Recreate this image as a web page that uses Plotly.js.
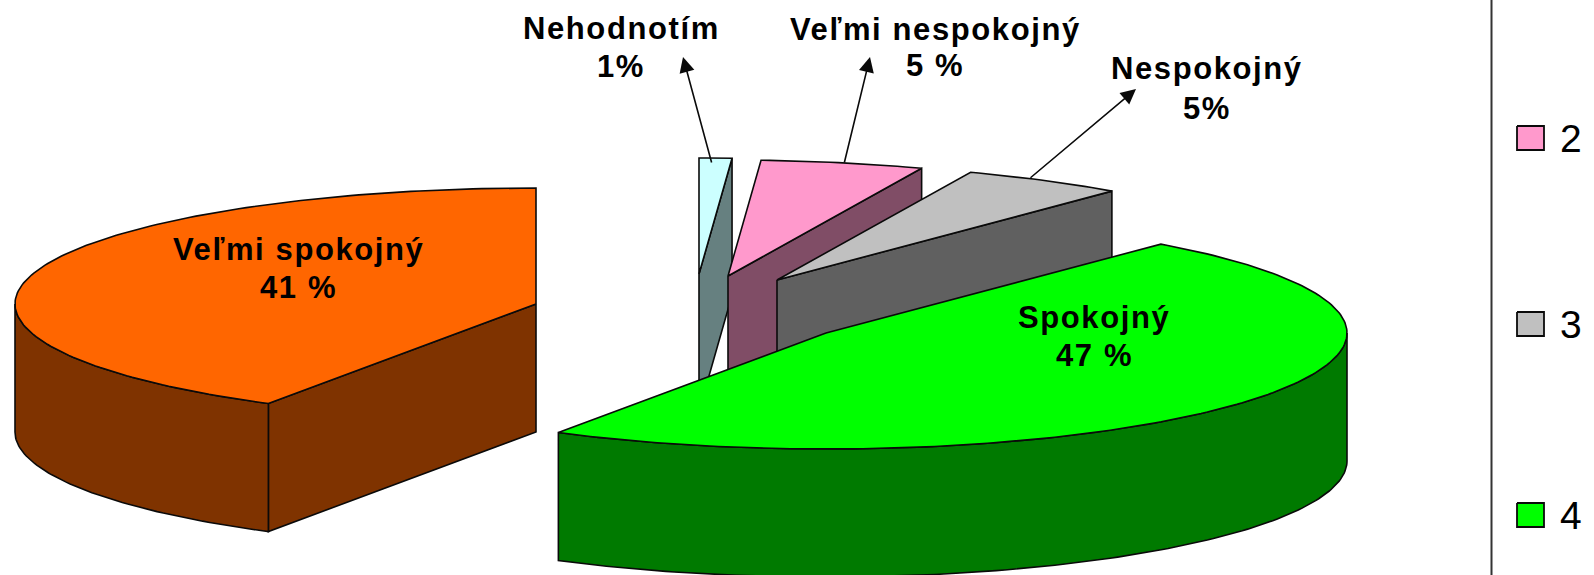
<!DOCTYPE html>
<html>
<head>
<meta charset="utf-8">
<script src="https://cdn.plot.ly/plotly-3.0.1.min.js"></script>
<style>
html,body{margin:0;padding:0;background:#fff;overflow:hidden}
.annotation-text{letter-spacing:1.6px}
</style>
</head>
<body>
<div id="chart" style="width:1594px;height:575px"></div>
<script>
// ---- data (clockwise from 12 o'clock) ----
const categories = ['Nehodnotím', 'Veľmi nespokojný', 'Nespokojný', 'Spokojný', 'Veľmi spokojný'];
const values = [1, 5, 5, 47, 41];
const valueLabels = ['1%', '5 %', '5%', '47 %', '41 %'];
const legendLabels = ['2', '3', '4'];

// ---- styles and placement ----
const topColors = ['#CCFFFF', '#FF99CC', '#C0C0C0', '#00FF00', '#FF6600'];
const sideColors = ['#668080', '#804D66', '#606060', '#007A00', '#7F3300'];
const legendColors = ['#FF99CC', '#C0C0C0', '#00FF00'];
const apexX = [699, 728, 777, 826, 536];
const apexY = [274, 276, 280, 333, 304];
const depths = [137, 128, 128, 128, 128];
const RX = 521, RY = 116;
const labelPosX = [621, 935, 1207, 1094, 298];
const nameY = [28, 29, 68, 317, 249];
const valueY = [66, 65, 108, 355, 287];
const arrowFoot = [[712, 164], [844, 164], [1029, 179]];
const arrowTip = [[683, 57], [870, 57], [1136, 89]];
const legendY = [138, 324, 515];

const INK = '#0a0a0a';
const total = values.reduce((a, b) => a + b, 0);
const rad = d => d * Math.PI / 180;
function rim(i, deg) {
  return [apexX[i] + RX * Math.sin(rad(deg)), apexY[i] - RY * Math.cos(rad(deg))];
}
function arc(i, from, to) {
  const pts = [], n = Math.max(2, Math.ceil(Math.abs(to - from)));
  for (let k = 0; k <= n; k++) pts.push(rim(i, from + (to - from) * k / n));
  return pts;
}
function poly(pts, fill, w) {
  const x = pts.map(p => p[0]), y = pts.map(p => p[1]);
  x.push(x[0]); y.push(y[0]);
  return {x, y, type: 'scatter', mode: 'lines', fill: 'toself', fillcolor: fill,
          line: {color: INK, width: w || 1.6}, hoverinfo: 'skip', showlegend: false};
}

const traces = [];
let cum = 0;
values.forEach((v, i) => {
  const a1 = cum / total * 360;
  cum += v;
  const a2 = cum / total * 360;
  const d = depths[i], apex = [apexX[i], apexY[i]];
  const wall = p => [p[0], p[1] + d];
  if (a2 < 180) {           // far radial wall, facing the viewer
    const p = rim(i, a2);
    traces.push(poly([apex, p, wall(p), wall(apex)], sideColors[i]));
  }
  if (a1 > 180) {           // near radial wall, facing the viewer
    const p = rim(i, a1);
    traces.push(poly([apex, p, wall(p), wall(apex)], sideColors[i]));
  }
  const f = Math.max(a1, 90), t = Math.min(a2, 270);
  if (t > f) {              // outer rim wall
    const top = arc(i, f, t);
    traces.push(poly(top.concat(top.slice().reverse().map(wall)), sideColors[i]));
  }
  traces.push(poly([apex].concat(arc(i, a1, a2)), topColors[i]));
});

// legend swatches
legendLabels.forEach((_, i) => {
  const y = legendY[i];
  traces.push(poly([[1517, y - 12], [1544, y - 12], [1544, y + 12], [1517, y + 12]], legendColors[i], 1.8));
});

const font = {family: 'Liberation Sans, Arial, sans-serif', size: 31, color: '#000', weight: 'bold'};
const txt = (x, y, text, f) => ({x, y, text, xref: 'x', yref: 'y', showarrow: false,
  xanchor: 'center', yanchor: 'middle', font: f || font});
const annotations = [];
categories.forEach((c, i) => {
  annotations.push(txt(labelPosX[i], nameY[i], '<b>' + c + '</b>'));
  annotations.push(txt(labelPosX[i], valueY[i], '<b>' + valueLabels[i] + '</b>'));
});
arrowFoot.forEach((p, i) => {
  annotations.push({x: arrowTip[i][0], y: arrowTip[i][1], ax: p[0], ay: p[1],
    xref: 'x', yref: 'y', axref: 'x', ayref: 'y', text: '', showarrow: true,
    arrowhead: 2, arrowsize: 1.9, arrowwidth: 1.6, arrowcolor: INK});
});
legendLabels.forEach((l, i) => {
  annotations.push(txt(1571, legendY[i], l,
    {family: 'Liberation Sans, Arial, sans-serif', size: 39, color: '#000'}));
});

const layout = {
  width: 1594, height: 575,
  margin: {l: 0, r: 0, t: 0, b: 0},
  paper_bgcolor: '#fff', plot_bgcolor: '#fff',
  showlegend: false,
  xaxis: {range: [0, 1594], visible: false, fixedrange: true},
  yaxis: {range: [575, 0], visible: false, fixedrange: true},
  shapes: [{type: 'line', xref: 'x', yref: 'y', x0: 1491.5, x1: 1491.5, y0: 0, y1: 575,
            line: {color: '#333', width: 2}}],
  annotations
};
Plotly.newPlot('chart', traces, layout, {displayModeBar: false, staticPlot: true});
</script>
</body>
</html>
